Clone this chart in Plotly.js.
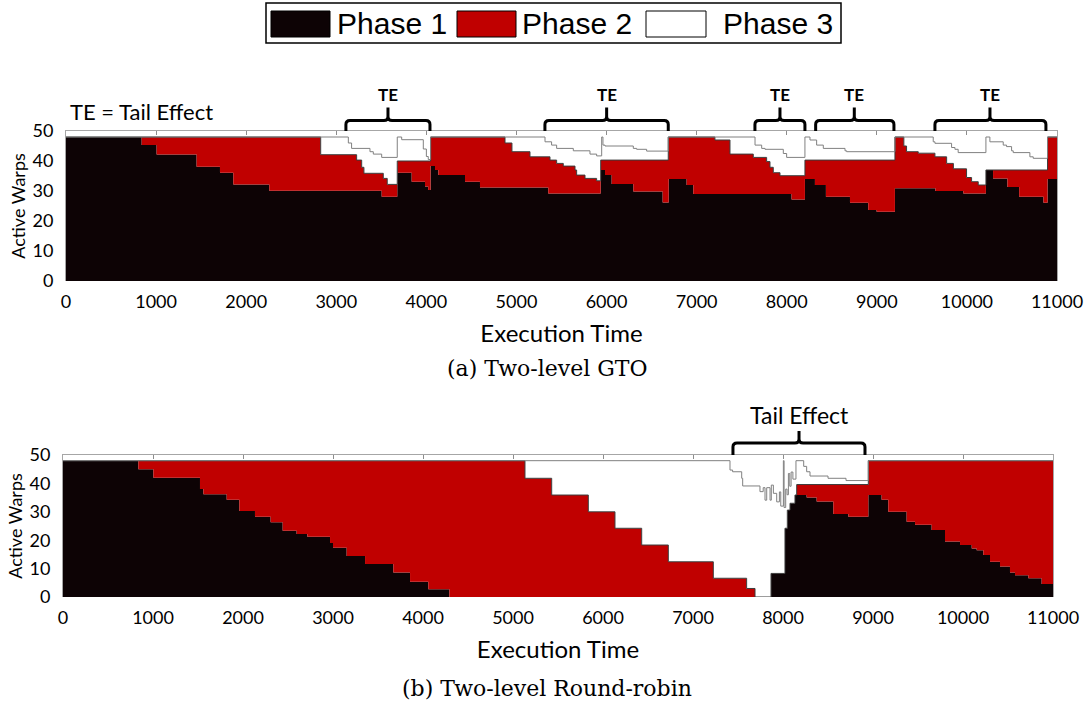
<!DOCTYPE html>
<html><head><meta charset="utf-8">
<script src="https://cdn.plot.ly/plotly-3.0.1.min.js"></script>
<style>html,body{margin:0;padding:0;background:#fff}#chart{width:1089px;height:704px}</style>
</head><body><div id="chart"></div>
<script>
// ---------- (a) Two-level GTO ----------
const gtoP1Time = [0,840,1006,1450,1709,1857,2256,3504,3677,3837,3985,4020,4047,4096,4133,4429,4595,5353,5935,5983,6057,6297,6623,6690,6889,6963,8054,8202,8313,8435,8702,8905,8998,9201,9650,9960,10211,10290,10450,10580,10850,10895,11000];
const gtoP1 = [48,45.3,42.2,38.1,36.1,32.2,30.1,28.1,36.1,33.1,31.5,30.3,38.3,37,35.3,33.1,31.2,29.2,37,35.3,32.3,29.8,26.2,34,32,29,27.2,34,32,28.1,26.1,23.7,23.1,30.9,30,29.2,37,34.2,31.3,28.1,26.1,34,34];
const gtoP2Time = [0,2827,3226,3282,3307,3522,3566,3677,4047,4873,4950,5150,5372,5446,5520,5650,5668,5761,5890,5935,6685,7203,7370,7629,7777,7814,7851,7925,8202,9201,9300,9330,9460,9645,9775,9850,9996,10052,10126,10211,10895,11000];
const gtoP2 = [48,42.1,40.3,37.9,35.9,34.2,32.2,40,48,46,43.1,41.4,40.3,39.2,38.3,37,35.3,34.2,33.4,40.3,48,47,42.3,41.2,39.8,37.9,36.1,35.1,40.3,48,45,43.1,42.6,41.4,39.2,37.4,34.5,33.1,32,37,48,48];
const gtoP3Time = [0,3134,3170,3374,3411,3504,3677,3726,3966,4000,4021,4047,5317,5390,5446,5631,5816,5890,5946,5960,5983,6297,6334,6445,6685,7648,7722,7759,7962,7999,8202,8258,8332,8406,8647,8665,9201,9626,9645,9830,9867,9903,10211,10255,10403,10440,10496,10514,10699,10736,10895,11000];
const gtoP3 = [48,46,44.2,43.1,42.3,41.2,48,47.1,44,41.5,40.5,48,46.4,45.3,44.2,43.4,42.3,41.7,48,45.3,45,44.2,43.9,43.3,48,45.3,44.2,43.9,42.5,41.2,48,47,45.3,44.2,43.4,43.1,48,46.4,45.9,44.5,43.9,42.8,48,46.4,45.3,44.8,43.4,42.8,41.4,40.9,48,48];

// ---------- (b) Two-level Round-robin ----------
const rrP1Time = [0,837,1004,1522,1560,1819,1959,2133,2307,2441,2596,2715,2967,3000,3152,3356,3670,3856,4059,4293,7867,8022,8048,8078,8133,8263,8374,8559,8726,8948,9096,9170,9374,9467,9652,9800,9967,10097,10152,10226,10300,10411,10522,10578,10726,10874,11000];
const rrP1 = [48,45,42,38,36.2,34.2,30.3,28.3,26.3,23.3,22.2,21.2,19,17.3,14.4,11.6,8.6,5.4,2.7,0,8.3,24.2,30.6,33,35.9,35,33.6,29.2,28.3,35.9,34.2,30,26.5,25.4,23.6,19.5,18.3,17.1,16.5,14.8,12.4,10.7,8.6,7.7,6.6,4.6,4.6];
const rrP2Time = [0,5133,5430,5837,6133,6430,6726,7226,7596,7689,7867,8022,8048,8078,8133,8152,8948,11000];
const rrP2 = [48,41.8,35.9,30,24.2,18.3,12.4,6.6,3,0,8.3,24.2,30.6,33,35.9,39.6,48,48];
const rrP3Time = [0,7411,7440,7541,7552,7744,7780,7800,7819,7856,7870,7893,7930,7960,7975,8004,8012,8030,8045,8060,8075,8090,8110,8144,8230,8263,8300,8500,8700,8948,11000];
const rrP3 = [48,44.7,44.1,41.8,39.1,37.1,38.5,34.1,38.5,34.1,39.4,36.5,33.5,37,32,48,31.5,38,36,43.5,39,44,41.5,48,46,44.1,42.6,41.8,41,48,48];

// ---------- axis ticks / labels ----------
const timeTicks = [0,1000,2000,3000,4000,5000,6000,7000,8000,9000,10000,11000];
const timeTickText = ['0','1000','2000','3000','4000','5000','6000','7000','8000','9000','10000','11000'];
const warpTicks = [0,10,20,30,40,50];
const phaseNames = ['Phase 1','Phase 2','Phase 3'];
const gtoTailCenters = [3574,6001,7925,8750,10256];
const gtoTailSpans = [[3107,4040],[5316,6685],[7647,8202],[8321,9190],[9645,10877]];
const rrTailSpan = [7444,8911];
const rrTailCenter = 8178;

const W = 1089, H = 704;
const px = v => v / W, py = v => 1 - v / H;
const BLACK = '#0d0305', RED = '#c00000', GREY = '#a6a6a6';
const FONT = 'Lato, "Open Sans", sans-serif';

function phaseTraces(t1,v1,t2,v2,t3,v3,xa,ya){
  return [
    {type:'scatter',mode:'lines',x:t1,y:v1,xaxis:xa,yaxis:ya,name:phaseNames[0],fill:'tozeroy',fillcolor:BLACK,line:{shape:'hv',width:0,color:BLACK},hoverinfo:'skip'},
    {type:'scatter',mode:'lines',x:t2,y:v2,xaxis:xa,yaxis:ya,name:phaseNames[1],fill:'tonexty',fillcolor:RED,line:{shape:'hv',width:1,color:'#3a3a3a'},hoverinfo:'skip'},
    {type:'scatter',mode:'lines',x:t3,y:v3,xaxis:xa,yaxis:ya,name:phaseNames[2],fill:'tonexty',fillcolor:'#ffffff',line:{shape:'hv',width:1,color:'#808080'},hoverinfo:'skip'}
  ];
}
// empty helper traces so the top (frame) axes get drawn
function frameTrace(xa,ya){ return {type:'scatter',mode:'none',x:[],y:[],xaxis:xa,yaxis:ya,hoverinfo:'skip',showlegend:false}; }
const data = [].concat(
  phaseTraces(gtoP1Time,gtoP1,gtoP2Time,gtoP2,gtoP3Time,gtoP3,'x','y'),
  phaseTraces(rrP1Time,rrP1,rrP2Time,rrP2,rrP3Time,rrP3,'x3','y2'),
  [frameTrace('x2','y'), frameTrace('x4','y2')]
);

function xMain(domain, anchor){
  return {domain:domain, anchor:anchor, range:[0,11000], autorange:false, tickmode:'array', tickvals:timeTicks, ticktext:timeTickText,
    ticks:'', showline:false, showgrid:false, zeroline:false, ticklabelstandoff:8,
    tickfont:{family:FONT,size:18,color:'#000'},
    title:{text:'Execution Time', font:{family:FONT,size:24,color:'#000'}, standoff:14}};
}
function xTop(over, anchor){
  return {overlaying:over, anchor:anchor, side:'top', range:[0,11000], autorange:false, tickmode:'array',
    tickvals:timeTicks.slice(1,-1), ticks:'inside', ticklen:4, tickcolor:'#8c8c8c', tickwidth:1,
    showticklabels:false, showline:true, linecolor:GREY, linewidth:1, showgrid:false, zeroline:false};
}
function yMain(domain, anchor){
  return {domain:domain, anchor:anchor, range:[0,50], autorange:false, tickmode:'array', tickvals:warpTicks,
    ticks:'', showline:true, linecolor:GREY, linewidth:1, mirror:true, showgrid:false, zeroline:false,
    ticklabelstandoff:8, tickfont:{family:FONT,size:18,color:'#000'},
    title:{text:'Active Warps', font:{family:FONT,size:18,color:'#000'}, standoff:2}};
}

function brace(L,R,C,xref,yBot,yH,yTop){
  const dx = 45, dy = 4/H;
  const path = `M ${L},${yBot} L ${L},${yH-dy} Q ${L},${yH} ${L+dx},${yH} L ${C-dx},${yH} Q ${C},${yH} ${C},${yH+dy} L ${C},${yTop} L ${C},${yH+dy} Q ${C},${yH} ${C+dx},${yH} L ${R-dx},${yH} Q ${R},${yH} ${R},${yH-dy} L ${R},${yBot}`;
  return {type:'path', xref:xref, yref:'paper', path:path, line:{color:'#000', width:3}, fillcolor:'rgba(0,0,0,0)'};
}

const shapes = [];
gtoTailSpans.forEach((s,i)=>shapes.push(brace(s[0],s[1],gtoTailCenters[i],'x',py(131),py(120.5),py(107.5))));
shapes.push(brace(rrTailSpan[0],rrTailSpan[1],rrTailCenter,'x3',py(455),py(443),py(431)));
// custom legend
shapes.push({type:'rect',xref:'paper',yref:'paper',x0:px(266),x1:px(841),y0:py(43),y1:py(3),line:{color:'#000',width:1.5},fillcolor:'#fff'});
const swatches = [[271,330,BLACK],[457,516,RED],[646,706,'#ffffff']];
swatches.forEach(s=>shapes.push({type:'rect',xref:'paper',yref:'paper',x0:px(s[0]),x1:px(s[1]),y0:py(37),y1:py(11),line:{color:'#000',width:1},fillcolor:s[2]}));

const annotations = [];
const legendTextX = [335,520,721];
phaseNames.forEach((n,i)=>annotations.push({xref:'paper',yref:'paper',x:px(legendTextX[i]),y:py(24),xanchor:'left',yanchor:'middle',text:n,showarrow:false,font:{family:'"Liberation Sans", Arial, sans-serif',size:30,color:'#000'}}));
annotations.push({xref:'paper',yref:'paper',x:px(68),y:py(111),xanchor:'left',yanchor:'middle',text:'TE = Tail Effect',showarrow:false,font:{family:FONT,size:22,color:'#000'}});
gtoTailCenters.forEach(c=>annotations.push({xref:'x',yref:'paper',x:c,y:py(94),xanchor:'center',yanchor:'middle',text:'TE',showarrow:false,font:{family:FONT,size:17,color:'#000',weight:700}}));
annotations.push({xref:'x3',yref:'paper',x:rrTailCenter,y:py(415),xanchor:'center',yanchor:'middle',text:'Tail Effect',showarrow:false,font:{family:FONT,size:23,color:'#000'}});
annotations.push({xref:'paper',yref:'paper',x:px(547),y:py(368),xanchor:'center',yanchor:'middle',text:'(a) Two-level GTO',showarrow:false,font:{family:'"DejaVu Serif", serif',size:22,color:'#000'}});
annotations.push({xref:'paper',yref:'paper',x:px(547),y:py(688),xanchor:'center',yanchor:'middle',text:'(b) Two-level Round-robin',showarrow:false,font:{family:'"DejaVu Serif", serif',size:22,color:'#000'}});

const layout = {
  width:W, height:H, margin:{l:0,r:0,t:0,b:0}, paper_bgcolor:'#fff', plot_bgcolor:'#fff', showlegend:false,
  xaxis: xMain([px(66),px(1057)],'y'),
  xaxis2: xTop('x','y'),
  yaxis: yMain([py(281),py(131)],'x'),
  xaxis3: xMain([px(63),px(1053)],'y2'),
  xaxis4: xTop('x3','y2'),
  yaxis2: yMain([py(597),py(455)],'x3'),
  shapes: shapes, annotations: annotations
};
Plotly.newPlot('chart', data, layout, {staticPlot:true, displayModeBar:false});
</script></body></html>
